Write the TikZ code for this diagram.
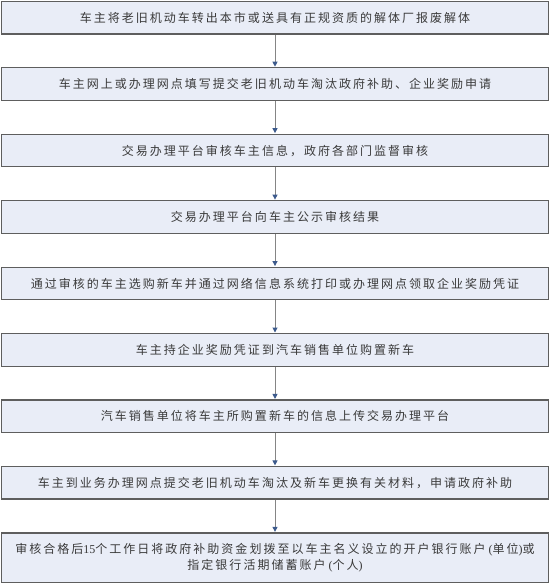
\documentclass[tikz,border=0pt]{standalone}
\usepackage{fontspec}
\setmainfont{Liberation Serif}
\newfontfamily\cjk[LetterSpace=16.7]{Noto Sans CJK SC}
\usetikzlibrary{arrows.meta}
\definecolor{boxfill}{HTML}{E9EDF7}
\definecolor{boxline}{HTML}{5E5E5E}
\definecolor{txt}{HTML}{3A3A3A}
\definecolor{arrline}{HTML}{858585}
\definecolor{arrtip}{HTML}{3C5A8C}
\tikzset{
  stepbox/.style={draw=boxline, line width=1.3pt, fill=boxfill, text=txt,
    minimum width=546.5pt, inner sep=0pt, anchor=north,
    font=\fontsize{12pt}{15.5pt}\selectfont\cjk},
  flow/.style={draw=arrline, line width=1pt,
    -{Triangle[width=5pt,length=5pt,color=arrtip]}, shorten >=0.5pt}
}
\begin{document}
\begin{tikzpicture}[x=1pt,y=1pt]
\useasboundingbox (0,0) rectangle (550,-583);
\node[stepbox, minimum height=32.5pt] (b1) at (275,-0.75) {车主将老旧机动车转出本市或送具有正规资质的解体厂报废解体};
\node[stepbox, minimum height=32.5pt] (b2) at (275,-67.2) {车主网上或办理网点填写提交老旧机动车淘汰政府补助、企业奖励申请};
\node[stepbox, minimum height=32.5pt] (b3) at (275,-133.65) {交易办理平台审核车主信息，政府各部门监督审核};
\node[stepbox, minimum height=32.5pt] (b4) at (275,-200.1) {交易办理平台向车主公示审核结果};
\node[stepbox, minimum height=32.5pt] (b5) at (275,-266.55) {通过审核的车主选购新车并通过网络信息系统打印或办理网点领取企业奖励凭证};
\node[stepbox, minimum height=32.5pt] (b6) at (275,-333.0) {车主持企业奖励凭证到汽车销售单位购置新车};
\node[stepbox, minimum height=32.5pt] (b7) at (275,-399.45) {汽车销售单位将车主所购置新车的信息上传交易办理平台};
\node[stepbox, minimum height=32.5pt] (b8) at (275,-465.9) {车主到业务办理网点提交老旧机动车淘汰及新车更换有关材料，申请政府补助};
\node[stepbox, minimum height=49.8pt, align=center] (b9) at (275,-532.35) {审核合格后{\rmfamily 15}个工作日将政府补助资金划拨至以车主名义设立的开户银行账户{\rmfamily\ (}单位{\rmfamily )}或\\指定银行活期储蓄账户{\rmfamily\ (}个人{\rmfamily )}};
\foreach \a/\b in {b1/b2,b2/b3,b3/b4,b4/b5,b5/b6,b6/b7,b7/b8,b8/b9}
  \draw[flow] (\a.south) -- (\b.north);
\end{tikzpicture}
\end{document}
